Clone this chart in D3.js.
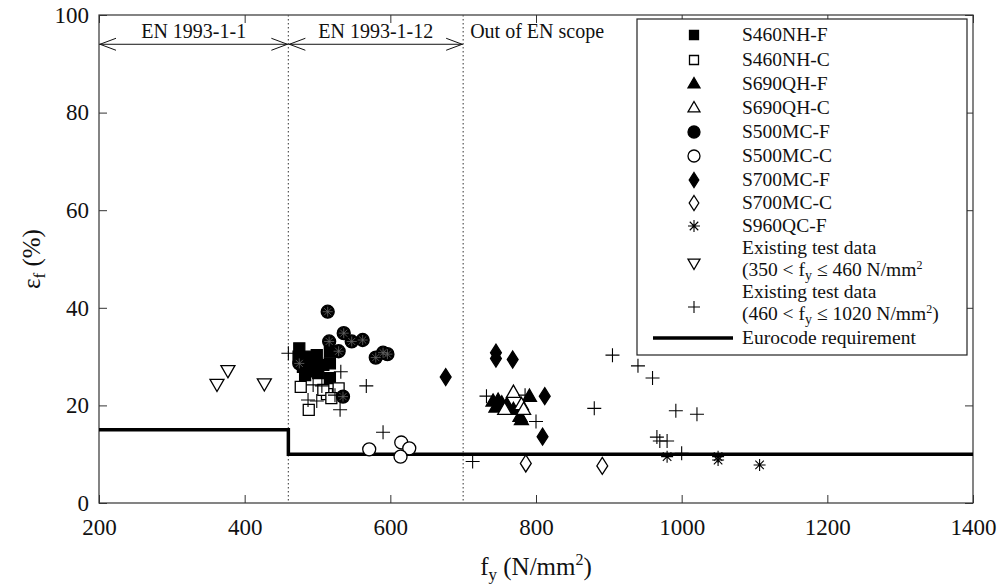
<!DOCTYPE html>
<html>
<head>
<meta charset="utf-8">
<script src="https://cdn.jsdelivr.net/npm/d3@7"></script>
<style>
  body { margin: 0; background: #fff; }
  text { font-family: "Liberation Serif", "Times New Roman", serif; fill: #111; }
</style>
</head>
<body>
<div id="chart"></div>
<script>
// ---- data (fy in N/mm2, elongation at fracture in %) ----
var s460nhF = [[475,31.7],[474,30],[487,30],[499,30.3],[517,31],[480,27.9],[494,28.3],[508,28.3],
  [517,28.6],[483,26.2],[501,26.6],[517,25.6],[476,29.3],[490,27]];
var s460nhC = [[477,23.8],[488,19.1],[513,22.3],[529,23.5],[508,23.2],[519,21.5]];
var s690qhF = [[741,20.8],[748,21],[753,20.4],[760,20.1],[769,19.1],[778,17.7],[780,17],[791,21.8],[745,19.6]];
var s690qhC = [[769,22.6],[757,19.1],[780,20.1],[783,19.1]];
var s500mcF = [[514,39.2],[536,34.8],[547,33.1],[562,33.4],[516,33.1],[529,31.1],[580,29.8],
  [590,30.8],[596,30.5],[475,28.6],[535,21.8]];
var s500mcC = [[571,11],[615,12.4],[626,11.2],[614,9.5]];
var s700mcF = [[676,25.8],[745,29.6],[745,30.8],[768,29.4],[812,21.9],[809,13.6]];
var s700mcC = [[786,8.1],[891,7.6]];
var s960qcF = [[980,9.5],[1050,9.5],[1050,8.8],[1107,7.8]];
var existingLow = [[377,27.2],[362,24.4],[427,24.5]];
var existingHigh = [[460,30.7],[532,26.9],[567,24],[494,24.2],[506,24],[487,21.1],[499,20.9],
  [531,19.1],[524,22.1],[590,14.5],[713,8.5],[732,21.9],[785,22.1],[800,16.7],[880,19.4],
  [905,30.3],[940,28.1],[960,25.6],[992,18.9],[1021,18.2],[966,13.5],[970,12.7],[980,12.7],[1000,10.2]];
var eurocodeX = [200, 460, 460, 1400];
var eurocodeY = [15, 15, 10, 10];
var xTicks = [200, 400, 600, 800, 1000, 1200, 1400];
var yTicks = [0, 20, 40, 60, 80, 100];
var scopeLimits = [460, 700];

var width = 1006, height = 586;
var margin = {left: 99, right: 33, top: 15, bottom: 83};

var svg = d3.select('#chart').append('svg')
  .attr('width', width)
  .attr('height', height);

var x = d3.scaleLinear().domain([200, 1400]).range([margin.left, width - margin.right]);
var y = d3.scaleLinear().domain([0, 100]).range([height - margin.bottom, margin.top]);

// marker path builders, centred on 0,0
var markers = {
  square: function (s) { return d3.symbol(d3.symbolSquare, s * s)(); },
  circle: function (s) { return d3.symbol(d3.symbolCircle, Math.PI * s * s / 4)(); },
  triUp: function (s) { var h = s * 0.87; return 'M0,' + (-h * 0.62) + 'L' + (s / 2) + ',' + (h * 0.38) + 'L' + (-s / 2) + ',' + (h * 0.38) + 'Z'; },
  triDown: function (s) { var h = s * 0.87; return 'M0,' + (h * 0.62) + 'L' + (s / 2) + ',' + (-h * 0.38) + 'L' + (-s / 2) + ',' + (-h * 0.38) + 'Z'; },
  diamond: function (s) { return 'M0,' + (-s / 2) + 'L' + (s * 0.32) + ',0L0,' + (s / 2) + 'L' + (-s * 0.32) + ',0Z'; },
  plus: function (s) { return 'M' + (-s / 2) + ',0H' + (s / 2) + 'M0,' + (-s / 2) + 'V' + (s / 2); },
  star: function (s) {
    var r = s / 2, d = r * 0.7071;
    return 'M' + (-r) + ',0H' + r + 'M0,' + (-r) + 'V' + r +
      'M' + (-d) + ',' + (-d) + 'L' + d + ',' + d + 'M' + (-d) + ',' + d + 'L' + d + ',' + (-d);
  }
};

var series = [
  {name: 'S460NH-F', data: s460nhF, shape: 'square', size: 11, fill: '#000'},
  {name: 'S460NH-C', data: s460nhC, shape: 'square', size: 11, fill: '#fff'},
  {name: 'S690QH-F', data: s690qhF, shape: 'triUp', size: 14, fill: '#000'},
  {name: 'S690QH-C', data: s690qhC, shape: 'triUp', size: 14, fill: '#fff'},
  {name: 'S500MC-F', data: s500mcF, shape: 'circle', size: 13, fill: '#000'},
  {name: 'S500MC-C', data: s500mcC, shape: 'circle', size: 13, fill: '#fff'},
  {name: 'S700MC-F', data: s700mcF, shape: 'diamond', size: 17, fill: '#000'},
  {name: 'S700MC-C', data: s700mcC, shape: 'diamond', size: 17, fill: '#fff'},
  {name: 'S960QC-F', data: s960qcF, shape: 'star', size: 12, fill: 'none'},
  {name: ['Existing test data', '(350 < f', 'y', ' \u2264 460 N/mm', '2', ''], data: existingLow, shape: 'triDown', size: 14, fill: '#fff'},
  {name: ['Existing test data', '(460 < f', 'y', ' \u2264 1020 N/mm', '2', ')'], data: existingHigh, shape: 'plus', size: 14, fill: 'none'}
];

// frame with inward ticks on all four sides
var frame = svg.append('g').attr('class', 'frame');
frame.append('rect')
  .attr('x', x(200)).attr('y', y(100))
  .attr('width', x(1400) - x(200)).attr('height', y(0) - y(100))
  .attr('fill', 'none').attr('stroke', '#333').attr('stroke-width', 1.2);

svg.append('g')
  .attr('transform', 'translate(0,' + y(0) + ')')
  .call(d3.axisBottom(x).tickValues(xTicks).tickSize(-8).tickPadding(16).tickFormat(d3.format('d')))
  .call(function (g) { g.select('.domain').remove(); });
svg.append('g')
  .attr('transform', 'translate(0,' + y(100) + ')')
  .call(d3.axisTop(x).tickValues(xTicks).tickSize(-8).tickFormat(''))
  .call(function (g) { g.select('.domain').remove(); });
svg.append('g')
  .attr('transform', 'translate(' + x(200) + ',0)')
  .call(d3.axisLeft(y).tickValues(yTicks).tickSize(-8).tickPadding(10))
  .call(function (g) { g.select('.domain').remove(); });
svg.append('g')
  .attr('transform', 'translate(' + x(1400) + ',0)')
  .call(d3.axisRight(y).tickValues(yTicks).tickSize(-8).tickFormat(''))
  .call(function (g) { g.select('.domain').remove(); });

svg.selectAll('.tick line').attr('stroke', '#333');
svg.selectAll('.tick text')
  .style('font-family', '"Liberation Serif", serif')
  .style('font-size', '23px')
  .attr('fill', '#222');

// scope limits
svg.selectAll('line.scope')
  .data(scopeLimits)
  .enter().append('line')
  .attr('class', 'scope')
  .attr('x1', function (d) { return x(d); })
  .attr('x2', function (d) { return x(d); })
  .attr('y1', y(100)).attr('y2', y(0))
  .attr('stroke', '#555').attr('stroke-width', 1.2)
  .attr('stroke-dasharray', '1.5,2.5');

// scope arrows + labels
var arrowY = y(94);
function arrow (a, b) {
  var g = svg.append('g');
  g.append('line')
    .attr('x1', x(a)).attr('x2', x(b))
    .attr('y1', arrowY).attr('y2', arrowY)
    .attr('stroke', '#111').attr('stroke-width', 1);
  g.append('path')
    .attr('d', 'M' + (x(a) + 17) + ',' + (arrowY - 6) + 'L' + (x(a) + 1) + ',' + arrowY + 'L' + (x(a) + 17) + ',' + (arrowY + 6))
    .attr('fill', 'none').attr('stroke', '#111').attr('stroke-width', 1);
  g.append('path')
    .attr('d', 'M' + (x(b) - 17) + ',' + (arrowY - 6) + 'L' + (x(b) - 1) + ',' + arrowY + 'L' + (x(b) - 17) + ',' + (arrowY + 6))
    .attr('fill', 'none').attr('stroke', '#111').attr('stroke-width', 1);
}
arrow(200, 460);
arrow(460, 700);
svg.append('text').attr('x', (x(200) + x(460)) / 2).attr('y', arrowY - 6)
  .attr('text-anchor', 'middle').style('font-size', '20px').text('EN 1993-1-1');
svg.append('text').attr('x', (x(460) + x(700)) / 2).attr('y', arrowY - 6)
  .attr('text-anchor', 'middle').style('font-size', '20px').text('EN 1993-1-12');
svg.append('text').attr('x', x(700) + 7).attr('y', arrowY - 6)
  .attr('text-anchor', 'start').style('font-size', '20px').text('Out of EN scope');

// Eurocode requirement step line
var eurocode = eurocodeX.map(function (d, i) { return [d, eurocodeY[i]]; });
svg.append('path')
  .datum(eurocode)
  .attr('d', d3.line().x(function (d) { return x(d[0]); }).y(function (d) { return y(d[1]); }))
  .attr('fill', 'none').attr('stroke', '#000').attr('stroke-width', 3.5);

// points
var pointLayer = svg.append('g').attr('class', 'points');
series.forEach(function (s) {
  var lineOnly = s.shape === 'plus' || s.shape === 'star';
  var grp = pointLayer.append('g');
  var pts = grp.selectAll('path.pt').data(s.data).enter();
  pts.append('path')
    .attr('class', 'pt')
    .attr('transform', function (d) { return 'translate(' + x(d[0]) + ',' + y(d[1]) + ')'; })
    .attr('d', markers[s.shape](s.size))
    .attr('fill', s.fill)
    .attr('stroke', '#000')
    .attr('stroke-width', lineOnly ? 1.1 : 1.3);
  if (s.shape === 'circle' && s.fill === '#000') {
    // faint star texture that shows inside the filled circles
    grp.selectAll('path.tex').data(s.data).enter().append('path')
      .attr('class', 'tex')
      .attr('transform', function (d) { return 'translate(' + x(d[0]) + ',' + y(d[1]) + ')'; })
      .attr('d', markers.star(10))
      .attr('stroke', '#666').attr('stroke-width', 0.8).attr('fill', 'none');
  }
});

// legend
var lg = svg.append('g').attr('class', 'legend');
lg.append('rect')
  .attr('x', 637).attr('y', 19).attr('width', 330).attr('height', 336)
  .attr('fill', '#fff').attr('stroke', '#222').attr('stroke-width', 1.2);

var legendRows = [35, 60, 84, 108, 132, 156, 180, 203, 226, 263, 307];
var legendFont = '19.5px';
series.forEach(function (s, i) {
  var ry = legendRows[i];
  var smallSize = s.shape === 'square' ? 9 : (s.shape === 'diamond' ? 15 : 12);
  lg.append('path')
    .attr('transform', 'translate(694,' + ry + ')')
    .attr('d', markers[s.shape](smallSize))
    .attr('fill', s.fill).attr('stroke', '#000')
    .attr('stroke-width', (s.shape === 'plus' || s.shape === 'star') ? 1.1 : 1.3);
  if (typeof s.name === 'string') {
    lg.append('text').attr('x', 742).attr('y', ry + 6).style('font-size', legendFont).text(s.name);
  } else {
    lg.append('text').attr('x', 742).attr('y', ry - 9).style('font-size', legendFont).text(s.name[0]);
    var t = lg.append('text').attr('x', 742).attr('y', ry + 13).style('font-size', legendFont);
    t.append('tspan').text(s.name[1]);
    t.append('tspan').attr('dy', 4).style('font-size', '14px').text(s.name[2]);
    t.append('tspan').attr('dy', -4).text(s.name[3]);
    t.append('tspan').attr('dy', -7).style('font-size', '12px').text(s.name[4]);
    t.append('tspan').attr('dy', 7).text(s.name[5]);
  }
});
lg.append('line')
  .attr('x1', 653).attr('x2', 733).attr('y1', 338).attr('y2', 338)
  .attr('stroke', '#000').attr('stroke-width', 3.5);
lg.append('text').attr('x', 742).attr('y', 344).style('font-size', legendFont).text('Eurocode requirement');

// axis titles
var xt = svg.append('text')
  .attr('x', (x(200) + x(1400)) / 2).attr('y', 575)
  .attr('text-anchor', 'middle').style('font-size', '25px');
xt.append('tspan').text('f');
xt.append('tspan').attr('dy', 5).style('font-size', '17px').text('y');
xt.append('tspan').attr('dy', -5).text(' (N/mm');
xt.append('tspan').attr('dy', -10).style('font-size', '16px').text('2');
xt.append('tspan').attr('dy', 10).text(')');

var yt = svg.append('text')
  .attr('transform', 'translate(40,' + ((y(0) + y(100)) / 2) + ') rotate(-90)')
  .attr('text-anchor', 'middle').style('font-size', '25px');
yt.append('tspan').text('\u03b5');
yt.append('tspan').attr('dy', 5).style('font-size', '17px').text('f');
yt.append('tspan').attr('dy', -5).text('  (%)');
</script>
</body>
</html>
